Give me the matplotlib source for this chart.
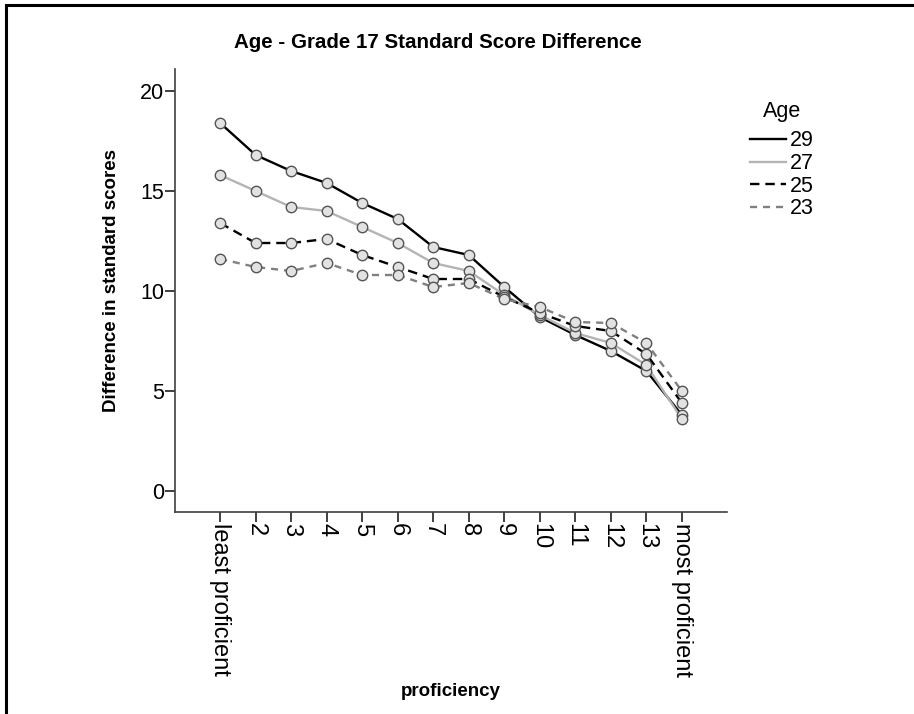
import matplotlib
matplotlib.use("Agg")
import matplotlib.pyplot as plt
from matplotlib import font_manager
from matplotlib.lines import Line2D
from matplotlib.patches import Rectangle

names = {f.name for f in font_manager.fontManager.ttflist}
NARROW = "Liberation Sans Narrow" if "Liberation Sans Narrow" in names else "Liberation Sans"

categories = ["least proficient", "2", "3", "4", "5", "6", "7", "8", "9",
              "10", "11", "12", "13", "most proficient"]
ages = ["29", "27", "25", "23"]
age29 = [18.4, 16.8, 16.0, 15.4, 14.4, 13.6, 12.2, 11.8, 10.2, 8.7, 7.8, 7.0, 6.0, 3.8]
age27 = [15.8, 15.0, 14.2, 14.0, 13.2, 12.4, 11.4, 11.0, 9.8, 8.8, 7.9, 7.4, 6.3, 3.6]
age25 = [13.4, 12.4, 12.4, 12.6, 11.8, 11.2, 10.6, 10.6, 9.7, 8.9, 8.25, 8.0, 6.85, 4.4]
age23 = [11.6, 11.2, 11.0, 11.4, 10.8, 10.8, 10.2, 10.4, 9.6, 9.2, 8.45, 8.4, 7.4, 5.0]
series = [age29, age27, age25, age23]
yticks = [0, 5, 10, 15, 20]

styles = [
    dict(color="#000000", linestyle="-", lw=1.7),
    dict(color="#b4b4b4", linestyle="-", lw=1.7),
    dict(color="#000000", linestyle=(0, (4, 2.5)), lw=1.7),
    dict(color="#808080", linestyle=(0, (3, 2.5)), lw=1.7),
]

fig = plt.figure(figsize=(9.14, 7.14), dpi=100)
W, H = 914, 714
ax = fig.add_axes([175 / W, 1 - 512 / H, (727 - 175) / W, (512 - 69) / H])

x = list(range(1, len(categories) + 1))
for vals, st in zip(series, styles):
    ax.plot(x, vals, color=st["color"], linestyle=st["linestyle"], lw=st["lw"], zorder=2)
for vals in series:
    ax.plot(x, vals, linestyle="none", marker="o", markersize=7.5,
            markerfacecolor="#e2e2e2", markeredgecolor="#555555",
            markeredgewidth=1.0, zorder=3)

ax.set_xlim(-0.27, 15.27)
ax.set_ylim(-1.05, 21.1)
ax.set_xticks(x)
ax.set_xticklabels(categories, rotation=270, fontsize=17, family=NARROW,
                   va="top", ha="center")
ax.set_yticks(yticks)
ax.set_yticklabels([str(v) for v in yticks], fontsize=15.5, family=NARROW)
ax.tick_params(axis="both", direction="out", length=7, width=1.2, color="#202020", pad=1)
for s in ["top", "right"]:
    ax.spines[s].set_visible(False)
for s in ["left", "bottom"]:
    ax.spines[s].set_linewidth(1.2)
    ax.spines[s].set_color("#404040")

ax.set_xlabel("proficiency", fontsize=13.5, fontweight="bold", family="Liberation Sans")
ax.xaxis.set_label_coords(0.5, (512 - 683) / (512 - 69))
ax.set_ylabel("Difference in standard scores", fontsize=13.5, fontweight="bold",
              family="Liberation Sans")
ax.yaxis.set_label_coords((120 - 175) / (727 - 175), (512 - 280) / (512 - 69))

fig.text(438 / W, 1 - 42 / H, "Age - Grade 17 Standard Score Difference",
         fontsize=14.8, fontweight="bold", family="Liberation Sans",
         ha="center", va="center")

handles = [Line2D([0], [0], **{k: v for k, v in st.items()}) for st in styles]
leg = fig.legend(handles, ages, title="Age", loc="upper left",
                 bbox_to_anchor=(750 / W, 1 - 101 / H), frameon=False,
                 prop={"family": NARROW, "size": 15.5},
                 title_fontproperties={"family": NARROW, "size": 15.5},
                 handlelength=1.65, handletextpad=0.2, labelspacing=0.08,
                 borderpad=0, borderaxespad=0)
leg._legend_box.sep = 6

fig.patches.append(Rectangle((6 / W, -0.1), 1.2, (1 - 5 / H) + 0.1,
                             transform=fig.transFigure, fill=False,
                             edgecolor="black", lw=2.2, figure=fig))

fig.savefig("out.png", dpi=100)
